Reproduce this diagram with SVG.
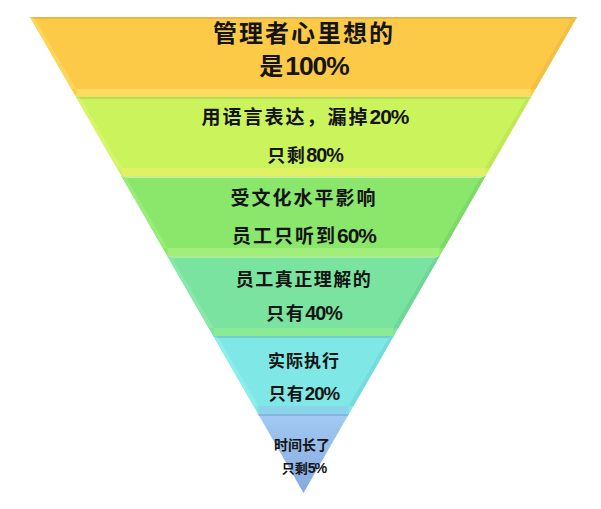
<svg xmlns="http://www.w3.org/2000/svg" width="601" height="509" viewBox="0 0 601 509">
<style>
text{font-family:"Noto Sans CJK SC","Noto Sans",sans-serif;fill:#141414;text-anchor:middle}
.t1{font-size:24px;font-weight:700;letter-spacing:2px}
.t2{font-size:19px;font-weight:600;letter-spacing:2px}
.t3{font-size:18px;font-weight:600;letter-spacing:1.5px}
.t4{font-size:17px;font-weight:600;letter-spacing:1px}
.t5{font-size:14px;font-weight:600}
.t6{font-size:13px;font-weight:600}
.n{font-family:"Liberation Sans",sans-serif;letter-spacing:-1px;font-weight:700;font-size:1.1em}
</style>
<defs>
<linearGradient id="g6" x1="0" y1="0" x2="0" y2="1">
<stop offset="0" stop-color="#a2caf2"/>
<stop offset="1" stop-color="#86a8e0"/>
</linearGradient>
</defs>
<rect width="601" height="509" fill="#ffffff"/>
<g id="band1">
<polygon points="30,17 577,17 531,97 76,97" fill="#fdca47"/>
<polygon points="30,17 577,17 575.9,19 31.1,19" fill="#e9b64a"/>
<polygon points="30,17 35,19 76.4,89 71.4,89" fill="#fdd55c"/>
<polygon points="577,17 572,19 530.6,89 535.6,89" fill="#f3c046"/>
<polygon points="76,97 531,97 530.6,89 76.4,89" fill="#fcdc5e"/>
<text class="t1" x="304" y="42">管理者心里想的</text>
<text class="t1" x="304" y="75">是<tspan class="n">100%</tspan></text>
</g>
<g id="band2">
<polygon points="76,97 531,97 485.6,176 121.4,176" fill="#cbf35c"/>
<polygon points="76,97 531,97 529.9,99 77.1,99" fill="#b5de58"/>
<polygon points="76,97 81,99 121.8,168 116.8,168" fill="#d6f56a"/>
<polygon points="531,97 526,99 485.2,168 490.2,168" fill="#c0e857"/>
<polygon points="121.4,176 485.6,176 485.2,168 121.8,168" fill="#e0f264"/>
<text class="t2" x="305" y="124">用语言表达，漏掉<tspan class="n">20%</tspan></text>
<text class="t3" x="305" y="162">只剩<tspan class="n">80%</tspan></text>
</g>
<g id="band3">
<polygon points="121.4,176 485.6,176 439.7,256 167.3,256" fill="#8be66c"/>
<polygon points="121.4,176 485.6,176 484.5,178 122.5,178" fill="#c8f090"/>
<polygon points="121.4,176 126.4,178 167.7,248 162.7,248" fill="#98ec78"/>
<polygon points="485.6,176 480.6,178 439.3,248 444.3,248" fill="#80d866"/>
<polygon points="167.3,256 439.7,256 439.3,248 167.7,248" fill="#a2ee7a"/>
<text class="t2" x="304" y="205">受文化水平影响</text>
<text class="t2" x="304" y="243">员工只听到<tspan class="n">60%</tspan></text>
</g>
<g id="band4">
<polygon points="167.3,256 439.7,256 393.7,336 213.3,336" fill="#7ae3a0"/>
<polygon points="167.3,256 439.7,256 438.6,258 168.4,258" fill="#a8ee9a"/>
<polygon points="167.3,256 172.3,258 213.7,328 208.7,328" fill="#88e8a8"/>
<polygon points="439.7,256 434.7,258 393.3,328 398.3,328" fill="#70d696"/>
<polygon points="213.3,336 393.7,336 393.3,328 213.7,328" fill="#8aea96"/>
<text class="t3" x="304" y="286">员工真正理解的</text>
<text class="t3" x="304" y="320">只有<tspan class="n">40%</tspan></text>
</g>
<g id="band5">
<polygon points="213.3,336 393.7,336 348.9,414 258.1,414" fill="#7fe8e6"/>
<polygon points="213.3,336 393.7,336 392.6,338 214.4,338" fill="#70cfc8"/>
<polygon points="213.3,336 218.3,338 258.5,406 253.5,406" fill="#8ceeec"/>
<polygon points="393.7,336 388.7,338 348.5,406 353.5,406" fill="#74dcdc"/>
<polygon points="258.1,414 348.9,414 348.5,406 258.5,406" fill="#8ad6e8"/>
<text class="t4" x="304" y="367">实际执行</text>
<text class="t4" x="304" y="400">只有<tspan class="n">20%</tspan></text>
</g>
<g id="band6">
<polygon points="258.1,414 348.9,414 303.5,493" fill="url(#g6)"/>
<polygon points="258.1,414 348.9,414 347.8,416 259.2,416" fill="#88b4e0"/>
<text class="t5" x="302" y="450">时间长了</text>
<text class="t6" x="304" y="473">只剩<tspan class="n">5%</tspan></text>
</g>
<g id="connectors"/>
</svg>
